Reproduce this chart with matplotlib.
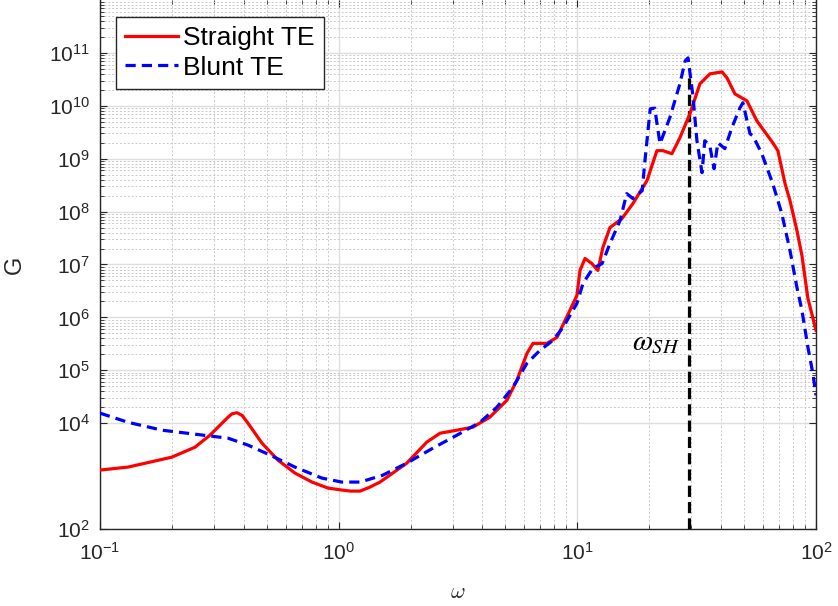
import numpy as np
import matplotlib
matplotlib.use("Agg")
import matplotlib.pyplot as plt
from matplotlib.ticker import FixedLocator, LogLocator, LogFormatterSciNotation, NullFormatter

plt.rcParams['font.family'] = ['Liberation Sans', 'DejaVu Sans']

# Gain curves, straight trailing edge
omega_straight = [0.100, 0.131, 0.200, 0.250, 0.289, 0.344, 0.357, 0.375, 0.394, 0.417,
                  0.477, 0.557, 0.656, 0.773, 0.902, 1.03, 1.12, 1.23, 1.35, 1.49,
                  1.93, 2.34, 2.66, 3.13, 3.65, 4.30, 5.07, 5.58, 6.15, 6.52,
                  7.46, 8.22, 9.31, 9.96, 10.26, 10.77, 11.51, 12.19, 12.79, 13.70,
                  15.38, 17.10, 19.58, 21.55, 22.84, 24.90, 26.90, 29.62, 32.63, 35.94,
                  40.38, 42.38, 45.73, 51.35, 56.5, 65.9, 69.2, 74.2, 77.8, 83.2,
                  87.3, 92.5, 100.0]
G_straight = [1.30e3, 1.48e3, 2.28e3, 3.52e3, 5.94e3, 1.30e4, 1.50e4, 1.58e4, 1.40e4, 1.0e4,
              4.2e3, 2.0e3, 1.14e3, 771, 594, 545, 521, 521, 617, 771,
              1.76e3, 4.39e3, 6.47e3, 7.38e3, 8.41e3, 1.30e4, 2.72e4, 6.47e4, 2.09e5, 3.23e5,
              3.23e5, 4.20e5, 1.36e6, 2.6e6, 7.71e6, 1.30e7, 1.04e7, 7.71e6, 2.09e7, 4.99e7,
              7.38e7, 1.42e8, 3.85e8, 1.42e9, 1.42e9, 1.24e9, 2.49e9, 7.06e9, 2.60e10, 4.02e10,
              4.38e10, 3.37e10, 1.68e10, 1.24e10, 5.21e9, 2.00e9, 1.42e9, 3.37e8, 1.61e8, 4.39e7,
              1.48e7, 2.28e6, 5.69e5]

# Gain curves, blunt trailing edge
omega_blunt = [0.100, 0.131, 0.182, 0.250, 0.344, 0.417, 0.506, 0.656, 0.851, 1.03,
               1.23, 1.53, 1.93, 2.48, 3.13, 3.91, 4.60, 5.37, 6.15, 6.97,
               7.90, 8.71, 9.96, 10.56, 11.6, 12.7, 13.7, 15.1, 16.1, 17.1,
               18.7, 19.2, 20.2, 21.1, 22.2, 24.4, 26.9, 28.3, 29.1, 30.5,
               31.7, 33.3, 34.2, 35.9, 37.4, 38.8, 41.5, 44.4, 48.0, 49.4,
               52.9, 54.4, 59.3, 65.9, 71.9, 77.8, 83.2, 87.3, 92.5, 97.0, 100.0]
G_blunt = [1.55e4, 1.04e4, 7.38e3, 6.2e3, 5.21e3, 3.85e3, 2.60e3, 1.48e3, 916, 771,
           771, 1.04e3, 1.76e3, 3.37e3, 5.94e3, 1.04e4, 2.00e4, 4.77e4, 1.36e5, 2.38e5,
           3.68e5, 6.47e5, 1.84e6, 4.39e6, 8.41e6, 1.04e7, 2.49e7, 6.76e7, 2.19e8, 1.76e8,
           2.49e8, 9.16e8, 8.77e9, 9.0e9, 1.92e9, 5.94e9, 2.60e10, 7.06e10, 8.05e10, 1.55e10,
           2.19e9, 5.44e8, 2.19e9, 1.76e9, 6.47e8, 2.00e9, 1.55e9, 3.85e9, 9.16e9, 1.14e10,
           2.96e9, 2.72e9, 1.24e9, 3.37e8, 9.16e7, 1.84e7, 3.68e6, 1.36e6, 2.72e5, 8.77e4, 3.37e4]

omega_sh = 29.4
G_marker = [1e2, 4.2e10]

y_major = [1e2, 1e4, 1e5, 1e6, 1e7, 1e8, 1e9, 1e10, 1e11]
y_minor = [k * 10.0**n for n in range(4, 12) for k in range(2, 10)]

axcol = '#262626'

fig = plt.figure(figsize=(8.38, 6.06), dpi=100)
ax = fig.add_axes([100/838, 1 - 529/606, 716/838, 529/606])

ax.plot([omega_sh, omega_sh], G_marker, color='k', lw=2.3,
        linestyle=(0, (3.5, 1.6)), zorder=3)
ax.plot(omega_straight, G_straight, color='#ff0000', lw=2.3, label='Straight TE', zorder=4)
ax.plot(omega_blunt, G_blunt, color='#0000ff', lw=2.3, linestyle=(0, (3.2, 1.9)),
        label='Blunt TE', zorder=5)

ax.set_xscale('log')
ax.set_yscale('log')
ax.set_xlim(0.1, 100)
ax.set_ylim(1e2, 1e12)

ax.xaxis.set_major_locator(LogLocator(base=10, numticks=10))
ax.xaxis.set_minor_locator(LogLocator(base=10, subs=np.arange(2, 10), numticks=20))
ax.yaxis.set_major_locator(FixedLocator(y_major))
ax.yaxis.set_minor_locator(FixedLocator(y_minor))
ax.xaxis.set_major_formatter(LogFormatterSciNotation())
ax.yaxis.set_major_formatter(LogFormatterSciNotation())
ax.xaxis.set_minor_formatter(NullFormatter())
ax.yaxis.set_minor_formatter(NullFormatter())

# grid in the usual MATLAB look: solid majors, dotted minors
ax.grid(True, which='major', color='#dedede', lw=1.0, linestyle='-')
ax.grid(True, which='minor', color='#c9c9c9', lw=0.7, linestyle=(0, (2, 2)))
ax.set_axisbelow(True)

ax.tick_params(which='both', direction='in', top=True, right=True, colors=axcol)
ax.tick_params(which='major', length=5, width=0.8, labelsize=15)
ax.tick_params(which='minor', length=3, width=0.6)
ax.tick_params(axis='x', which='major', pad=9)
ax.tick_params(axis='y', which='major', pad=7)

for side in ['left', 'bottom', 'right']:
    ax.spines[side].set_color(axcol)
    ax.spines[side].set_linewidth(1.0)
ax.spines['top'].set_visible(False)

ax.set_xlabel(r'$\omega$', fontsize=16, color=axcol, math_fontfamily='cm')
ax.xaxis.set_label_coords(0.5, (529 - 582) / 529)
ax.set_ylabel('G', fontsize=17, color=axcol)
ax.yaxis.set_label_coords((26 - 100) / 716, 0.5)

ax.text(27.0, 3.4e5, r'$\omega_{SH}$', ha='right', va='center', fontsize=21,
        math_fontfamily='stix', color='k')

leg = ax.legend(loc='upper left', bbox_to_anchor=(16/716, 1 - 17/529), borderaxespad=0,
                fancybox=False, edgecolor=axcol, framealpha=1, fontsize=19,
                handlelength=2.0, handletextpad=0.2, borderpad=0.35, labelspacing=0.2)
leg.get_frame().set_linewidth(1.0)

fig.savefig('out.png', dpi=100)
